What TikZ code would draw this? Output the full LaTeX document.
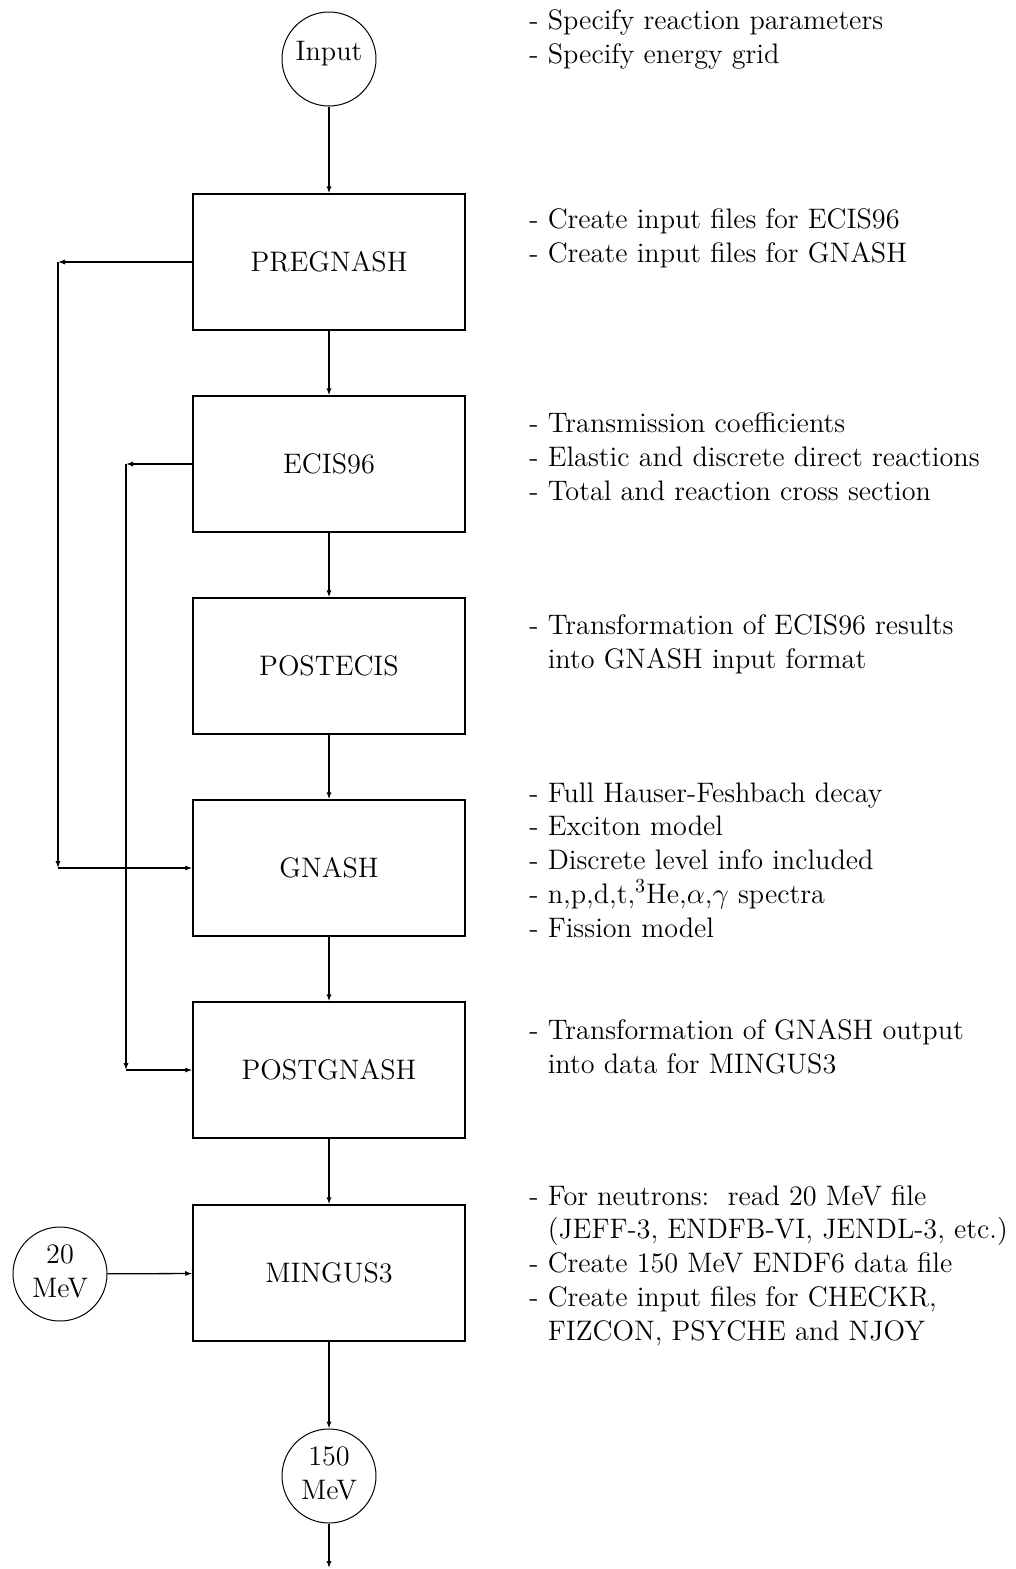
\documentclass[tikz,border=0pt]{standalone}
\usetikzlibrary{arrows.meta}
\begin{document}
\begin{tikzpicture}[x=0.5pt,y=-0.5pt,
  every node/.style={font=\fontsize{14.1}{16.85}\selectfont},
  stage/.style={draw, line width=0.75pt, minimum width=136pt, minimum height=68pt, inner sep=0pt},
  term/.style={draw, circle, line width=0.5pt, minimum size=47pt, inner sep=0pt, align=center},
  note/.style={anchor=base west, inner sep=0pt, align=left},
  conn/.style={line width=0.65pt, -{Latex[length=3.5pt,width=2.6pt]}}]
\useasboundingbox (0,0) rectangle (1016,1569);
% nodes
\node[term] (input) at (329,59) {\raisebox{-0.9pt}[0pt][0pt]{Input}};
\node[stage] (pre) at (329,262) {PREGNASH};
\node[stage] (ecis) at (329,464) {ECIS96};
\node[stage] (post) at (329,666) {POSTECIS};
\node[stage] (gnash) at (329,868) {GNASH};
\node[stage] (pg) at (329,1070) {POSTGNASH};
\node[stage] (ming) at (329,1273) {MINGUS3};
\node[term] (mevA) at (60,1274) {\raisebox{1.5pt}{\begin{tabular}{@{}c@{}}20\\MeV\end{tabular}}};
\node[term] (mevB) at (329,1476) {\raisebox{2.5pt}{\begin{tabular}{@{}c@{}}150\\MeV\end{tabular}}};
\coordinate (out) at (329,1568);
\coordinate (a1) at (58,262);
\coordinate (a2) at (58,868);
\coordinate (b1) at (126,464);
\coordinate (b2) at (126,1070);
% connectors
\draw[conn] (input) -- (pre);
\draw[conn] (pre) -- (ecis);
\draw[conn] (ecis) -- (post);
\draw[conn] (post) -- (gnash);
\draw[conn] (gnash) -- (pg);
\draw[conn] (pg) -- (ming);
\draw[conn] (ming) -- (mevB);
\draw[conn] (mevB) -- (out);
\draw[conn] (mevA) -- (ming);
\draw[conn] (pre.west) -- (a1);
\draw[conn] (a1) -- (a2);
\draw[conn] (a2) -- (gnash.west);
\draw[conn] (ecis.west) -- (b1);
\draw[conn] (b1) -- (b2);
\draw[conn] (b2) -- (pg.west);
% notes (base anchor = baseline of last line)
\node[note] (n1) at (529,63) {- Specify reaction parameters\\- Specify energy grid};
\node[note] (n2) at (529,262) {- Create input files for ECIS96\\- Create input files for GNASH};
\node[note] (n3) at (529,500) {- Transmission coefficients\\- Elastic and discrete direct reactions\\- Total and reaction cross section};
\node[note] (n4) at (529,668) {- Transformation of ECIS96 results\\\hphantom{- }into GNASH input format};
\node[note] (n5) at (529,937) {- Full Hauser-Feshbach decay\\- Exciton model\\- Discrete level info included\\- n,p,d,t,$^3$He,$\alpha$,$\gamma$ spectra\\- Fission model};
\node[note] (n6) at (529,1073) {- Transformation of GNASH output\\\hphantom{- }into data for MINGUS3};
\node[note] (n7) at (529,1340) {- For neutrons:\ \ read 20 MeV file\\\hphantom{- }(JEFF-3, ENDFB-VI, JENDL-3, etc.)\\- Create 150 MeV ENDF6 data file\\- Create input files for CHECKR,\\\hphantom{- }FIZCON, PSYCHE and NJOY};
\end{tikzpicture}
\end{document}
